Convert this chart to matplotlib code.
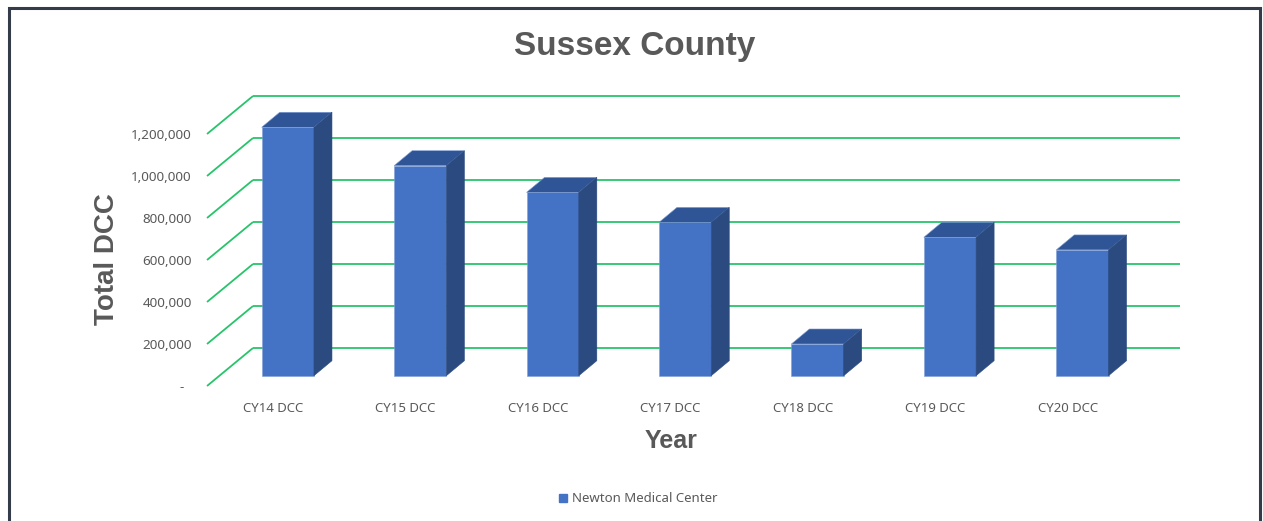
import matplotlib
matplotlib.use("Agg")
import matplotlib.pyplot as plt
from matplotlib.patches import Polygon, Rectangle, Patch

# ---------------- data ----------------
categories = ["CY14 DCC", "CY15 DCC", "CY16 DCC", "CY17 DCC", "CY18 DCC", "CY19 DCC", "CY20 DCC"]
values = [1183000, 1000000, 873000, 730000, 151000, 659000, 599000]
series_name = "Newton Medical Center"
y_ticks = [0, 200000, 400000, 600000, 800000, 1000000, 1200000]
y_tick_labels = ["-  ", "200,000", "400,000", "600,000", "800,000", "1,000,000", "1,200,000"]
title_text = "Sussex County"
x_label = "Year"
y_label = "Total DCC"

# ---------------- style ----------------
plt.rcParams['font.family'] = ['Noto Sans', 'DejaVu Sans']
GRAY = "#595959"
GREEN = "#27C46B"
FRONT = "#4472C4"
TOP = "#2F5597"
SIDE = "#2A4A80"
EDGE = "#7F9FD8"
BOLD_FONT = ["Liberation Sans", "DejaVu Sans"]

W, H = 1263, 521
fig = plt.figure(figsize=(W / 100, H / 100), dpi=100)
fig.patch.set_facecolor("white")

# plot area in pixels (front floor left, back wall right, top back grid, front zero)
L, R, T, B = 207, 1180, 96, 386
ax = fig.add_axes([L / W, (H - B) / H, (R - L) / W, (B - T) / H])

n = len(categories)
cat_px = (R - 46 - L) / n          # pixel width of one category on the front plane
DX = 46 / cat_px                   # depth offset in category units
PXV = 200000 / 42                  # value units per pixel
DY = 38 * PXV                      # depth offset in value units

ax.set_xlim(0, n + DX)
ax.set_ylim(0, max(y_ticks) + DY)
ax.set_facecolor("none")
for s in ax.spines.values():
    s.set_visible(False)

# gridlines: side-wall diagonals + back-wall horizontals
for v in y_ticks:
    ax.plot([0, DX], [v, v + DY], color=GREEN, lw=1.3, zorder=1, clip_on=False,
            solid_capstyle="butt")
    ax.plot([DX, n + DX], [v + DY, v + DY], color=GREEN, lw=1.3, zorder=1, clip_on=False,
            solid_capstyle="butt")

# bars (pseudo 3D)
BW = 52.3 / cat_px                 # bar front width
BX_OFF = 14.6 / cat_px             # x shift of bar front plane
BY_OFF = 10.3 * PXV                # y shift of bar front plane
BDX = 18 / cat_px                  # bar depth (x)
BDY = 15 * PXV                     # bar depth (y)
for i, v in enumerate(values):
    x0 = i + 0.5 + BX_OFF - BW / 2
    x1 = x0 + BW
    y0 = BY_OFF
    y1 = BY_OFF + v
    ax.bar(x0, v, width=BW, bottom=y0, align="edge", color=FRONT,
           edgecolor=EDGE, linewidth=0.4, zorder=3, clip_on=False)
    top = Polygon([(x0, y1), (x1, y1), (x1 + BDX, y1 + BDY), (x0 + BDX, y1 + BDY)],
                  closed=True, facecolor=TOP, edgecolor=EDGE, linewidth=0.4,
                  zorder=3, clip_on=False)
    side = Polygon([(x1, y0), (x1 + BDX, y0 + BDY), (x1 + BDX, y1 + BDY), (x1, y1)],
                   closed=True, facecolor=SIDE, edgecolor=SIDE, linewidth=0.4,
                   zorder=3, clip_on=False)
    ax.add_patch(top)
    ax.add_patch(side)

# y tick labels on the front plane
ax.set_yticks(y_ticks)
ax.set_yticklabels(y_tick_labels, fontsize=9.7, color=GRAY)
ax.tick_params(axis="y", length=0, pad=11)
ax.set_xticks([])

# category labels under the front floor
xt = ax.get_xaxis_transform()
for i, c in enumerate(categories):
    ax.text(i + 0.5, -(408 - B) / (B - T), c, transform=xt, ha="center", va="center",
            fontsize=9.5, color=GRAY)

# titles
fig.text(635 / W, 1 - 46 / H, title_text, ha="center", va="center",
         fontsize=24, fontweight="bold", color=GRAY, family=BOLD_FONT)
fig.text(671 / W, 1 - 441 / H, x_label, ha="center", va="center",
         fontsize=18, fontweight="bold", color=GRAY, family=BOLD_FONT)
fig.text(107 / W, 1 - 259 / H, y_label, ha="center", va="center", rotation=90,
         fontsize=20, fontweight="bold", color=GRAY, family=BOLD_FONT)

# legend
fig.legend(handles=[Patch(facecolor=FRONT, edgecolor=FRONT, label=series_name)],
           loc="center", bbox_to_anchor=(638 / W, 1 - 499 / H), frameon=False,
           fontsize=9.5, labelcolor=GRAY, handlelength=0.6, handleheight=0.6,
           handletextpad=0.4, borderpad=0)

# outer frame
fig.add_artist(Rectangle((8.5 / W, -0.1), (1260 - 8.5) / W, 1.1 - 8.5 / H,
                         transform=fig.transFigure, fill=False,
                         edgecolor="#333C48", linewidth=2.2, clip_on=False))

fig.savefig("out.png", dpi=100, facecolor="white")
